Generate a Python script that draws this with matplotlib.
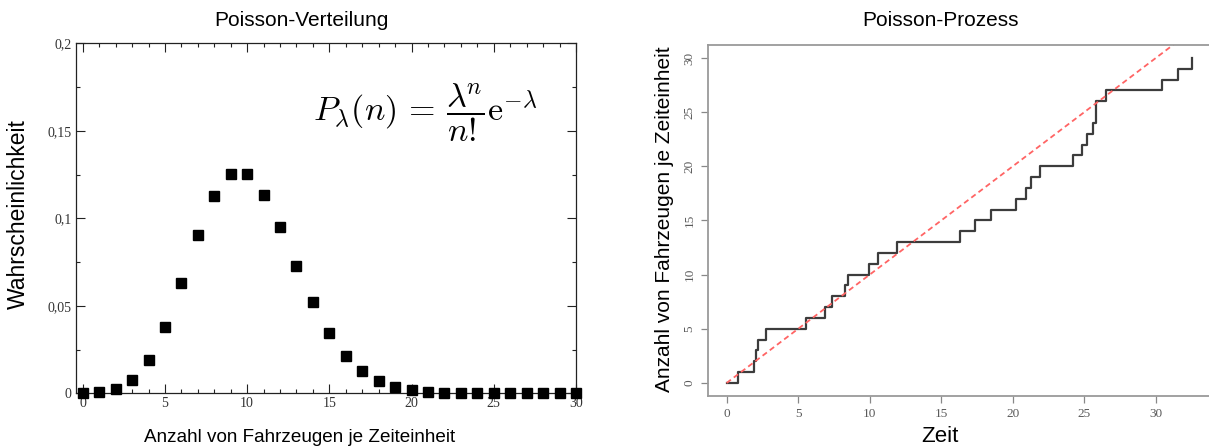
import matplotlib
matplotlib.use("Agg")
import matplotlib.pyplot as plt
from matplotlib.ticker import MultipleLocator

plt.rcParams['mathtext.fontset'] = 'cm'
plt.rcParams['font.family'] = ['Liberation Sans', 'DejaVu Sans']

# Poisson-Verteilung (lambda = 10)
n_vals = list(range(31))
prob = [0.0, 0.0005, 0.0023, 0.0075, 0.0188, 0.0377, 0.0632, 0.0902, 0.1126,
        0.1251, 0.1251, 0.1135, 0.0948, 0.0730, 0.0521, 0.0345, 0.0215, 0.0125,
        0.0068, 0.0035, 0.0016, 0.0006, 0.0002, 0.0001, 0.0, 0.0, 0.0, 0.0,
        0.0, 0.0, 0.0]
x_ticks_left = [0, 5, 10, 15, 20, 25, 30]
y_ticks_left = [0, 0.05, 0.1, 0.15, 0.2]
y_labels_left = ['0', '0,05', '0,1', '0,15', '0,2']

# Poisson-Prozess: jump times of the counting process
jump_times = [0.0, 0.82, 1.94, 2.07, 2.19, 2.76, 5.55, 6.85, 7.34, 8.31, 8.46,
              9.93, 10.60, 11.90, 16.33, 17.33, 18.50, 20.26, 20.91, 21.26,
              21.93, 24.20, 24.84, 25.17, 25.64, 25.84, 25.85, 26.50, 30.40,
              31.57, 32.56]
counts = list(range(31))
rate = 1.0
line_t = [0, 36]
ticks_right = [0, 5, 10, 15, 20, 25, 30]

fig = plt.figure(figsize=(12.09, 4.48), dpi=100)

# ---- left chart
ax1 = fig.add_axes([0.0626, 0.1221, 0.4138, 0.7812])
ax1.plot(n_vals, prob, 's', color='black', markersize=6.5, clip_on=False, zorder=3)
ax1.set_xlim(-0.43, 30)
ax1.set_ylim(0, 0.2)
ax1.set_xticks(x_ticks_left)
ax1.set_xticklabels([str(v) for v in x_ticks_left])
ax1.set_yticks(y_ticks_left)
ax1.set_yticklabels(y_labels_left)
ax1.xaxis.set_minor_locator(MultipleLocator(1))
ax1.yaxis.set_minor_locator(MultipleLocator(0.025))
ax1.tick_params(which='both', direction='in', top=True, right=True,
                width=0.8, color='#222222')
ax1.tick_params(which='major', length=6.5, labelsize=10, labelcolor='#333333', pad=3)
ax1.tick_params(which='minor', length=3)
for lab in ax1.get_xticklabels() + ax1.get_yticklabels():
    lab.set_family('Liberation Serif')
for sp in ax1.spines.values():
    sp.set_linewidth(0.9)
    sp.set_color('#222222')
ax1.text(20.85, 0.1606,
         r'$P_\lambda(n)\,=\,\dfrac{\lambda^{\!n}}{n!}\mathrm{e}^{-\lambda}$',
         ha='center', va='center', fontsize=24.5)

fig.text(301 / 1209, 1 - 20 / 448, 'Poisson-Verteilung', ha='center', va='center', fontsize=15)
fig.text(18 / 1209, 1 - 214 / 448, 'Wahrscheinlichkeit', ha='center', va='center',
         rotation=90, fontsize=16.5)
fig.text(300 / 1209, 1 - 437 / 448, 'Anzahl von Fahrzeugen je Zeiteinheit',
         ha='center', va='center', fontsize=13.6)

# ---- right chart
ax2 = fig.add_axes([0.5856, 0.1161, 0.4161, 0.7835])
ax2.step(jump_times, counts, where='post', color='#3c3c3c', linewidth=1.6)
ax2.plot(line_t, [rate * t for t in line_t], color='#ff6464', linewidth=1.3,
         linestyle=(0, (3, 2)))
ax2.set_xlim(-1.30, 33.86)
ax2.set_ylim(-1.2, 31.2)
ax2.set_xticks(ticks_right)
ax2.set_yticks(ticks_right)
ax2.tick_params(direction='out', length=5, width=0.9, color='#888888',
                labelsize=9.5, labelcolor='#5a5a5a', pad=4)
for lab in ax2.get_xticklabels() + ax2.get_yticklabels():
    lab.set_family('Liberation Serif')
for lab in ax2.get_yticklabels():
    lab.set_rotation(90)
    lab.set_va('center')
for sp in ax2.spines.values():
    sp.set_linewidth(1.3)
    sp.set_color('#9a9a9a')

fig.text(941 / 1209, 1 - 20 / 448, 'Poisson-Prozess', ha='center', va='center', fontsize=15)
fig.text(665 / 1209, 1 - 219 / 448, 'Anzahl von Fahrzeugen je Zeiteinheit', ha='center',
         va='center', rotation=90, fontsize=15)
fig.text(940 / 1209, 1 - 436 / 448, 'Zeit', ha='center', va='center', fontsize=16)

fig.savefig('out.png', dpi=100)
